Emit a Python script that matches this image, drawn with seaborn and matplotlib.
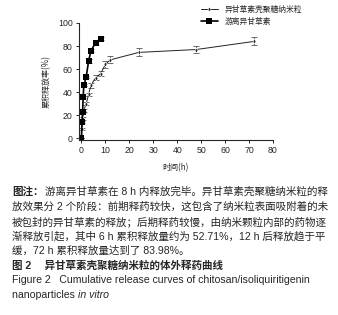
import numpy as np
import pandas as pd
import matplotlib.pyplot as plt
import seaborn as sns

# data
t_nano = [0, 0.25, 0.5, 1, 2, 3, 4, 6, 8, 10, 12, 24, 48, 72]
rel_nano = [0, 8, 17, 24, 30, 38, 46, 52.7, 56, 64, 68, 74.5, 77, 84]
err_nano = [0, 1, 1.5, 1.5, 1.5, 1.5, 2, 2, 2, 3, 3, 3.5, 3, 3.5]

t_free = [0, 0.25, 0.5, 0.75, 1, 2, 3, 4, 6, 8]
rel_free = [0, 14, 23, 36, 46, 53, 67, 76, 83, 86.5]
err_free = [0, 1, 1, 1, 1, 1, 1.5, 1.5, 2.5, 1]

lbl_nano = '异甘草素壳聚糖纳米粒'
lbl_free = '游离异甘草素'

nano = pd.DataFrame({'t': t_nano, 'rel': rel_nano, 'err': err_nano})
free = pd.DataFrame({'t': t_free, 'rel': rel_free, 'err': err_free})

sns.set_style('ticks')
plt.rcParams['font.family'] = ['Liberation Sans', 'Noto Sans CJK SC', 'DejaVu Sans']

fig = plt.figure(figsize=(3.38, 3.15), dpi=100)
ax = fig.add_axes([79 / 338, 175 / 315, 194 / 338, 117 / 315])

ax.errorbar(nano['t'], nano['rel'], yerr=nano['err'], fmt='none',
            ecolor='#555555', elinewidth=0.6, capsize=2, capthick=0.6)
ax.errorbar(free['t'], free['rel'], yerr=free['err'], fmt='none',
            ecolor='#555555', elinewidth=0.6, capsize=2, capthick=0.6)

sns.lineplot(data=nano, x='t', y='rel', ax=ax, color='#222222', linewidth=0.7,
             marker='d', markersize=2.5, markeredgewidth=0.4, label=lbl_nano)
sns.lineplot(data=free, x='t', y='rel', ax=ax, color='black', linewidth=1.2,
             marker='s', markersize=5, markeredgewidth=0, label=lbl_free)

ax.set_xlim(-1, 80)
ax.set_ylim(-1.5, 100)
ax.set_xticks(np.arange(0, 81, 10))
ax.set_yticks(np.arange(0, 101, 20))
ax.tick_params(labelsize=6.3, length=2.5, width=0.7, pad=2)
for s in ['left', 'bottom']:
    ax.spines[s].set_linewidth(0.8)
sns.despine(ax=ax)

ax.set_xlabel('时间(h)', fontsize=5.8, labelpad=6, family=['Noto Sans CJK SC'])
ax.set_ylabel('累积释放率(%)', fontsize=5.8, labelpad=5, family=['Noto Sans CJK SC'])

leg = ax.legend(loc='lower left', bbox_to_anchor=(197 / 338, 1 - 30 / 315),
                bbox_transform=fig.transFigure, frameon=False,
                handlelength=2.2, handletextpad=0.8, labelspacing=0.5,
                borderpad=0, prop={'family': ['Noto Sans CJK SC'], 'size': 5.6})

cap_fs = 7.6
fam = ['Liberation Sans', 'Noto Sans CJK SC']
lines = [
    '放效果分 2 个阶段：前期释药较快，这包含了纳米粒表面吸附着的未',
    '被包封的异甘草素的释放；后期释药较慢，由纳米颗粒内部的药物逐',
    '渐释放引起，其中 6 h 累积释放量约为 52.71%，12 h 后释放趋于平',
    '缓，72 h 累积释放量达到了 83.98%。',
]
x0 = 12 / 338
ys = [191.7, 206.7, 221.7, 236.3, 250.7, 265.7, 280.3, 294.7]


def fy(py):
    return 1 - py / 315


fig.text(x0, fy(ys[0]), '图注：', fontsize=cap_fs, weight='bold', family=fam, va='center')
fig.text(x0 + 33 / 338, fy(ys[0]), '游离异甘草素在 8 h 内释放完毕。异甘草素壳聚糖纳米粒的释',
         fontsize=cap_fs, family=fam, va='center')
for i, s in enumerate(lines):
    fig.text(x0, fy(ys[i + 1]), s, fontsize=cap_fs, family=fam, va='center')
fig.text(x0, fy(ys[5]), '图 2\u3000 异甘草素壳聚糖纳米粒的体外释药曲线', fontsize=cap_fs,
         weight='bold', family=fam, va='center')
fig.text(x0, fy(ys[6]), 'Figure 2   Cumulative release curves of chitosan/isoliquiritigenin',
         fontsize=cap_fs, family=fam, va='center')
t1 = fig.text(x0, fy(ys[7]), 'nanoparticles ', fontsize=cap_fs, family=fam, va='center')
fig.canvas.draw()
bb = t1.get_window_extent().transformed(fig.transFigure.inverted())
fig.text(bb.x1, fy(ys[7]), 'in vitro', fontsize=cap_fs, family=fam, style='italic', va='center')

fig.savefig('out.png', dpi=100)
